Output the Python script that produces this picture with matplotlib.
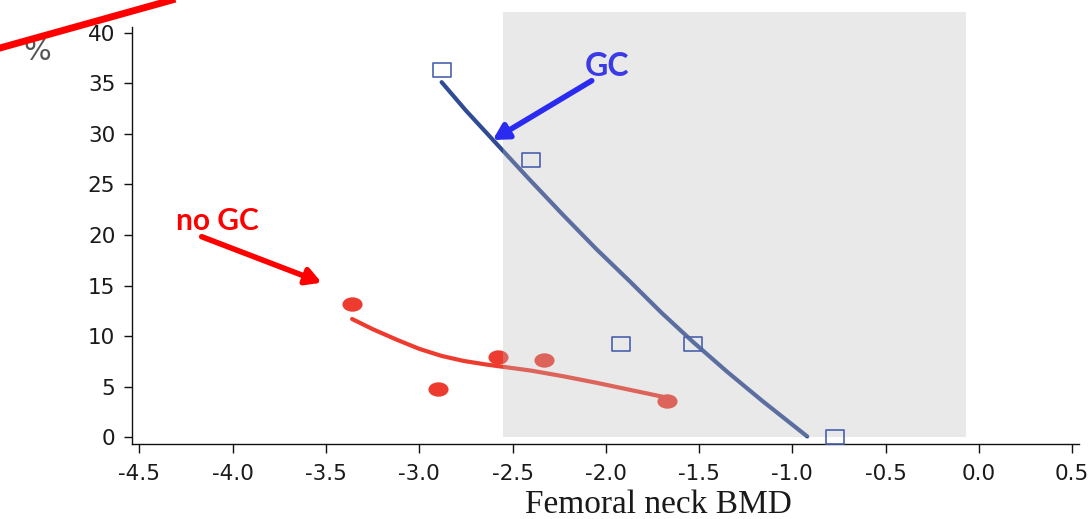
import numpy as np
import matplotlib
matplotlib.use("Agg")
import matplotlib.pyplot as plt
from matplotlib.path import Path
from matplotlib.patches import Rectangle
from matplotlib.lines import Line2D

# ---- data ----
gc_x = [-2.88, -2.40, -1.92, -1.53, -0.77]
gc_y = [36.3, 27.4, 9.2, 9.2, 0.0]
gc_fit_x = [-2.88, -2.75, -2.61, -2.42, -2.23, -2.05, -1.87, -1.70, -1.53, -1.35, -1.16, -0.92]
gc_fit_y = [35.1, 32.3, 29.5, 25.7, 22.0, 18.6, 15.4, 12.3, 9.4, 6.5, 3.6, 0.1]

nogc_x = [-3.36, -2.90, -2.58, -2.33, -1.67]
nogc_y = [13.2, 4.8, 7.9, 7.6, 3.6]
nogc_fit_x = [-3.36, -3.25, -3.12, -3.00, -2.88, -2.76, -2.64, -2.52, -2.40, -2.23, -2.05, -1.87, -1.69]
nogc_fit_y = [11.7, 10.7, 9.65, 8.75, 8.05, 7.55, 7.2, 6.9, 6.6, 6.05, 5.4, 4.7, 4.0]

xticks = [-4.5, -4.0, -3.5, -3.0, -2.5, -2.0, -1.5, -1.0, -0.5, 0.0, 0.5]
xtick_labels = ["-4.5", "-4.0", "-3.5", "-3.0", "-2.5", "-2.0", "-1.5", "-1.0", "-0.5", "0.0", "0.5"]
yticks = [0, 5, 10, 15, 20, 25, 30, 35, 40]
shade_x = (-2.553, -0.07)
shade_y = (0.0, 42.05)

fig = plt.figure(figsize=(10.92, 5.19), dpi=100)
ax = fig.add_axes([0.1209, 0.1445, 0.8668, 0.8035])
ax.set_xlim(-4.54, 0.535)
ax.set_ylim(-0.65, 40.55)

# markers
ell = Path.unit_circle()
ell = Path(ell.vertices * np.array([1.4, 1.0]), ell.codes)
rect = Path([(-1.38, -1), (1.38, -1), (1.38, 1), (-1.38, 1), (-1.38, -1)],
            [Path.MOVETO, Path.LINETO, Path.LINETO, Path.LINETO, Path.CLOSEPOLY])

red = '#ee3b2f'
ax.plot(nogc_fit_x, nogc_fit_y, color=red, lw=3.0, solid_capstyle='round',
        solid_joinstyle='round', zorder=2)
ax.plot(nogc_x, nogc_y, linestyle='none', marker=ell, markersize=14.5,
        markerfacecolor=red, markeredgecolor='none', zorder=2)
ax.plot(gc_fit_x, gc_fit_y, color='#2f4b93', lw=3.0, solid_capstyle='round',
        solid_joinstyle='round', zorder=2)

ax.add_patch(Rectangle((shade_x[0], shade_y[0]), shade_x[1] - shade_x[0], shade_y[1] - shade_y[0],
                       facecolor=(187/255, 187/255, 187/255), alpha=0.32, edgecolor='none',
                       clip_on=False, zorder=3))

ax.plot(gc_x, gc_y, linestyle='none', marker=rect, markersize=13,
        markerfacecolor='none', markeredgecolor='#4a62ad', markeredgewidth=1.2,
        zorder=4, clip_on=False)

for s in ['top', 'right']:
    ax.spines[s].set_visible(False)
for s in ['left', 'bottom']:
    ax.spines[s].set_linewidth(1.0)
    ax.spines[s].set_color('#111111')

ax.set_xticks(xticks)
ax.set_xticklabels(xtick_labels)
ax.set_yticks(yticks)
ax.tick_params(axis='x', direction='out', length=6.5, width=1.0, pad=8,
               labelsize=15.5, labelcolor='#1a1a1a', color='#111111')
ax.tick_params(axis='y', direction='out', length=6, width=1.0, pad=6,
               labelsize=15.5, labelcolor='#1a1a1a', color='#111111')
for lab in ax.get_xticklabels() + ax.get_yticklabels():
    lab.set_fontfamily('DejaVu Sans')

W, H = 1092.0, 519.0
fig.text(658 / W, 1 - 513 / H, 'Femoral neck BMD', family='Liberation Serif',
         fontsize=24, color='#1a1a1a', ha='center', va='baseline')
fig.text(37 / W, 1 - 52 / H, '%', family='DejaVu Sans', fontsize=21,
         color='#555555', ha='center', va='center')

# annotations
fig.text(217 / W, 1 - 221 / H, 'no GC', family='Lato', fontweight='bold',
         fontsize=21.5, color='#ff0000', ha='center', va='center')
ax.annotate('', xy=(321.7 / W, 1 - 282.7 / H), xycoords='figure fraction',
            xytext=(201.7 / W, 1 - 236.7 / H), textcoords='figure fraction',
            arrowprops=dict(arrowstyle='-|>,head_length=0.9,head_width=0.5',
                            lw=4, color='#ff0000', shrinkA=0, shrinkB=0),
            annotation_clip=False, zorder=6)

fig.text(607 / W, 1 - 66 / H, 'GC', family='Lato', fontweight='bold',
         fontsize=23, color='#3a3ae8', ha='center', va='center')
ax.annotate('', xy=(492.7 / W, 1 - 140 / H), xycoords='figure fraction',
            xytext=(591.7 / W, 1 - 80.7 / H), textcoords='figure fraction',
            arrowprops=dict(arrowstyle='-|>,head_length=0.9,head_width=0.5',
                            lw=4, color='#2a2af0', shrinkA=0, shrinkB=0),
            annotation_clip=False, zorder=6)

# red slash at top-left corner
fig.add_artist(Line2D([0 / W, 172 / W], [1 - 48 / H, 1 - 0 / H],
                      transform=fig.transFigure, color='#ff0000', lw=5, zorder=6))

fig.savefig('out.png', dpi=100)
